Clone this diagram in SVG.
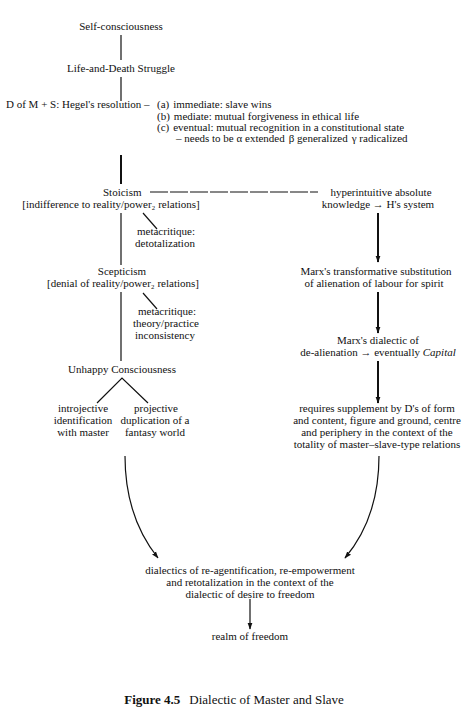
<svg xmlns="http://www.w3.org/2000/svg" width="468" height="720" viewBox="0 0 468 720">
<style>
text{font-family:"Liberation Serif","Times New Roman",serif;font-size:11px;fill:#111}
.c{text-anchor:middle}
.ln{stroke:#111;fill:none;stroke-width:1.2}
.th{stroke:#111;fill:none;stroke-width:2}
.cap{font-size:13px}
</style>
<defs>
<marker id="ah" viewBox="0 0 10 10" refX="9" refY="5" markerWidth="7" markerHeight="7" markerUnits="userSpaceOnUse" orient="auto">
<path d="M0,1.5 L10,5 L0,8.5 Z" fill="#111"/>
</marker>
</defs>
<rect width="468" height="720" fill="#fff"/>
<g id="connectors">
<line class="ln" x1="121" y1="35" x2="121" y2="60"/>
<line class="ln" x1="121" y1="77" x2="121" y2="101"/>
<line class="th" x1="121" y1="155" x2="121" y2="184"/>
<line class="ln" x1="150" y1="192" x2="318" y2="192" stroke-dasharray="18 2"/>
<line class="ln" x1="121" y1="213" x2="121" y2="265"/>
<line class="ln" x1="143" y1="213" x2="157" y2="229"/>
<line class="th" x1="378" y1="213" x2="378" y2="262" marker-end="url(#ah)"/>
<line class="ln" x1="121" y1="292" x2="121" y2="361"/>
<line class="ln" x1="143" y1="293" x2="157" y2="309"/>
<line class="th" x1="378" y1="292" x2="378" y2="333" marker-end="url(#ah)"/>
<line class="th" x1="378" y1="361" x2="378" y2="403" marker-end="url(#ah)"/>
<polyline class="ln" points="97,403 122,378 148,403"/>
<path class="ln" d="M125,456 C125,500 138,533 158,558" marker-end="url(#ah)"/>
<path class="ln" d="M379,456 C379,500 366,533 345,558" marker-end="url(#ah)"/>
<line class="ln" x1="250" y1="599" x2="250" y2="629" marker-end="url(#ah)"/>
</g>
<g id="n-self"><text class="c" x="121" y="30">Self-consciousness</text></g>
<g id="n-life"><text class="c" x="121" y="72">Life-and-Death Struggle</text></g>
<g id="n-dms">
<text x="6" y="108">D of M + S: Hegel's resolution –</text>
<text x="157" y="108">(a)<tspan dx="4">immediate: slave wins</tspan></text>
<text x="157" y="120">(b)<tspan dx="4">mediate: mutual forgiveness in ethical life</tspan></text>
<text x="157" y="131">(c)<tspan dx="4">eventual: mutual recognition in a constitutional state</tspan></text>
<text x="176" y="142">– needs to be α extended<tspan dx="4">β generalized</tspan><tspan dx="4">γ radicalized</tspan></text>
</g>
<g id="n-stoicism">
<text x="103" y="196">Stoicism</text>
<text class="c" x="111" y="208">[indifference to reality/power₂ relations]</text>
</g>
<g id="n-hyper">
<text class="c" x="381" y="196">hyperintuitive absolute</text>
<text class="c" x="378" y="208">knowledge → H's system</text>
</g>
<g id="n-meta1">
<text class="c" x="166" y="235">metacritique:</text>
<text class="c" x="165" y="247">detotalization</text>
</g>
<g id="n-scepticism">
<text class="c" x="122" y="275">Scepticism</text>
<text class="c" x="123" y="287">[denial of reality/power₂ relations]</text>
</g>
<g id="n-marx1">
<text class="c" x="376" y="275">Marx's transformative substitution</text>
<text class="c" x="374" y="287">of alienation of labour for spirit</text>
</g>
<g id="n-meta2">
<text class="c" x="167" y="315">metacritique:</text>
<text class="c" x="166" y="327">theory/practice</text>
<text class="c" x="165" y="339">inconsistency</text>
</g>
<g id="n-marx2">
<text class="c" x="378" y="344">Marx's dialectic of</text>
<text class="c" x="378" y="356">de-alienation → eventually <tspan font-style="italic">Capital</tspan></text>
</g>
<g id="n-unhappy"><text class="c" x="122" y="373">Unhappy Consciousness</text></g>
<g id="n-intro">
<text class="c" x="83" y="412">introjective</text>
<text class="c" x="83" y="424">identification</text>
<text class="c" x="83" y="436">with master</text>
</g>
<g id="n-proj">
<text class="c" x="156" y="412">projective</text>
<text class="c" x="155" y="424">duplication of a</text>
<text class="c" x="155" y="436">fantasy world</text>
</g>
<g id="n-req">
<text class="c" x="377" y="412">requires supplement by D's of form</text>
<text class="c" x="377" y="424">and content, figure and ground, centre</text>
<text class="c" x="377" y="436">and periphery in the context of the</text>
<text class="c" x="377" y="448">totality of master–slave-type relations</text>
</g>
<g id="n-dial">
<text class="c" x="250" y="574">dialectics of re-agentification, re-empowerment</text>
<text class="c" x="250" y="586">and retotalization in the context of the</text>
<text class="c" x="250" y="598">dialectic of desire to freedom</text>
</g>
<g id="n-realm"><text class="c" x="250" y="640">realm of freedom</text></g>
<g id="caption"><text class="c cap" x="234" y="704"><tspan font-weight="bold">Figure 4.5</tspan><tspan dx="9">Dialectic of Master and Slave</tspan></text></g>
</svg>
